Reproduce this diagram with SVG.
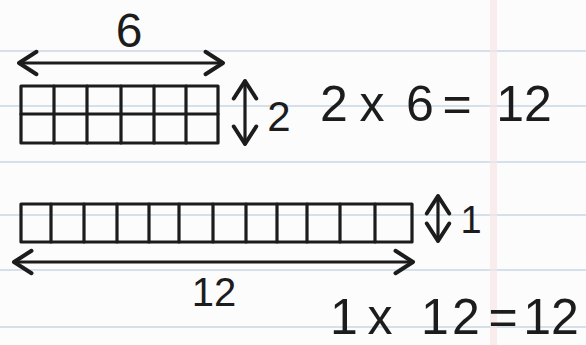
<svg xmlns="http://www.w3.org/2000/svg" width="586" height="345" viewBox="0 0 586 345">
  <style>
    .ink { stroke: #1c1c1c; stroke-width: 3.2; fill: none; stroke-linecap: round; stroke-linejoin: round; }
    .rule { stroke: #c9d7e6; stroke-width: 1.5; }
    .hand { font-family: "Liberation Sans", "DejaVu Sans", sans-serif; fill: #1c1c1c; text-anchor: middle; }
  </style>
  <defs>
    <marker id="head" markerUnits="userSpaceOnUse" markerWidth="30" markerHeight="30" viewBox="-18 -12 22 24" refX="0" refY="0" orient="auto-start-reverse">
      <path d="M -14 -9 L 0 0 L -14 9" fill="none" stroke="#1c1c1c" stroke-width="3.2" stroke-linecap="round" stroke-linejoin="round"/>
    </marker>
  </defs>

  <!-- paper -->
  <rect width="586" height="345" fill="#fcfcfc"/>
  <g id="paper-rules">
    <line class="rule" x1="0" y1="51" x2="586" y2="51"/>
    <line class="rule" x1="0" y1="106" x2="586" y2="106"/>
    <line class="rule" x1="0" y1="162" x2="586" y2="162"/>
    <line class="rule" x1="0" y1="215" x2="586" y2="215"/>
    <line class="rule" x1="0" y1="270" x2="586" y2="270"/>
    <line class="rule" x1="0" y1="327" x2="586" y2="327"/>
    <rect x="490" y="0" width="7" height="345" fill="#f6e6e6" opacity="0.7"/>
  </g>

  <!-- 2 x 6 grid -->
  <g id="grid-2x6" class="ink">
    <rect x="21" y="86" width="197" height="57"/>
    <line x1="21" y1="114" x2="218" y2="114"/>
    <line x1="54" y1="86" x2="54" y2="143"/>
    <line x1="87" y1="86" x2="87" y2="143"/>
    <line x1="121" y1="86" x2="121" y2="143"/>
    <line x1="154" y1="86" x2="154" y2="143"/>
    <line x1="186" y1="86" x2="186" y2="143"/>
  </g>

  <!-- 1 x 12 grid -->
  <g id="grid-1x12" class="ink">
    <rect x="21" y="204" width="391" height="38"/>
    <line x1="51" y1="204" x2="51" y2="242"/>
    <line x1="84" y1="204" x2="84" y2="242"/>
    <line x1="117" y1="204" x2="117" y2="242"/>
    <line x1="149" y1="204" x2="149" y2="242"/>
    <line x1="179" y1="204" x2="179" y2="242"/>
    <line x1="213" y1="204" x2="213" y2="242"/>
    <line x1="246" y1="204" x2="246" y2="242"/>
    <line x1="277" y1="204" x2="277" y2="242"/>
    <line x1="307" y1="204" x2="307" y2="242"/>
    <line x1="340" y1="204" x2="340" y2="242"/>
    <line x1="375" y1="204" x2="375" y2="242"/>
  </g>

  <!-- connectors (dimension arrows) -->
  <g id="connectors" class="ink">
    <line x1="19" y1="63" x2="223" y2="63" marker-start="url(#head)" marker-end="url(#head)"/>
    <line x1="245" y1="81" x2="245" y2="144" marker-start="url(#head)" marker-end="url(#head)"/>
    <line x1="14" y1="262" x2="413" y2="262" marker-start="url(#head)" marker-end="url(#head)"/>
    <line x1="438" y1="196" x2="438" y2="241" marker-start="url(#head)" marker-end="url(#head)"/>
  </g>

  <!-- labels -->
  <g id="label-6"><text class="hand" x="129" y="47" font-size="48">6</text></g>
  <g id="label-2"><text class="hand" x="279" y="131" font-size="42">2</text></g>
  <g id="label-12"><text class="hand" x="214" y="306" font-size="40">12</text></g>
  <g id="label-1"><text class="hand" x="471" y="233" font-size="38">1</text></g>

  <g id="equation-2x6">
    <text class="hand" font-size="50" y="121" x="334 352 372 392 420 438 457 476 524">2 x 6 = 12</text>
  </g>
  <g id="equation-1x12">
    <text class="hand" font-size="50" y="334" x="344 361 380 398 435 466 484 503 544">1 x 12 = 12</text>
  </g>
</svg>
